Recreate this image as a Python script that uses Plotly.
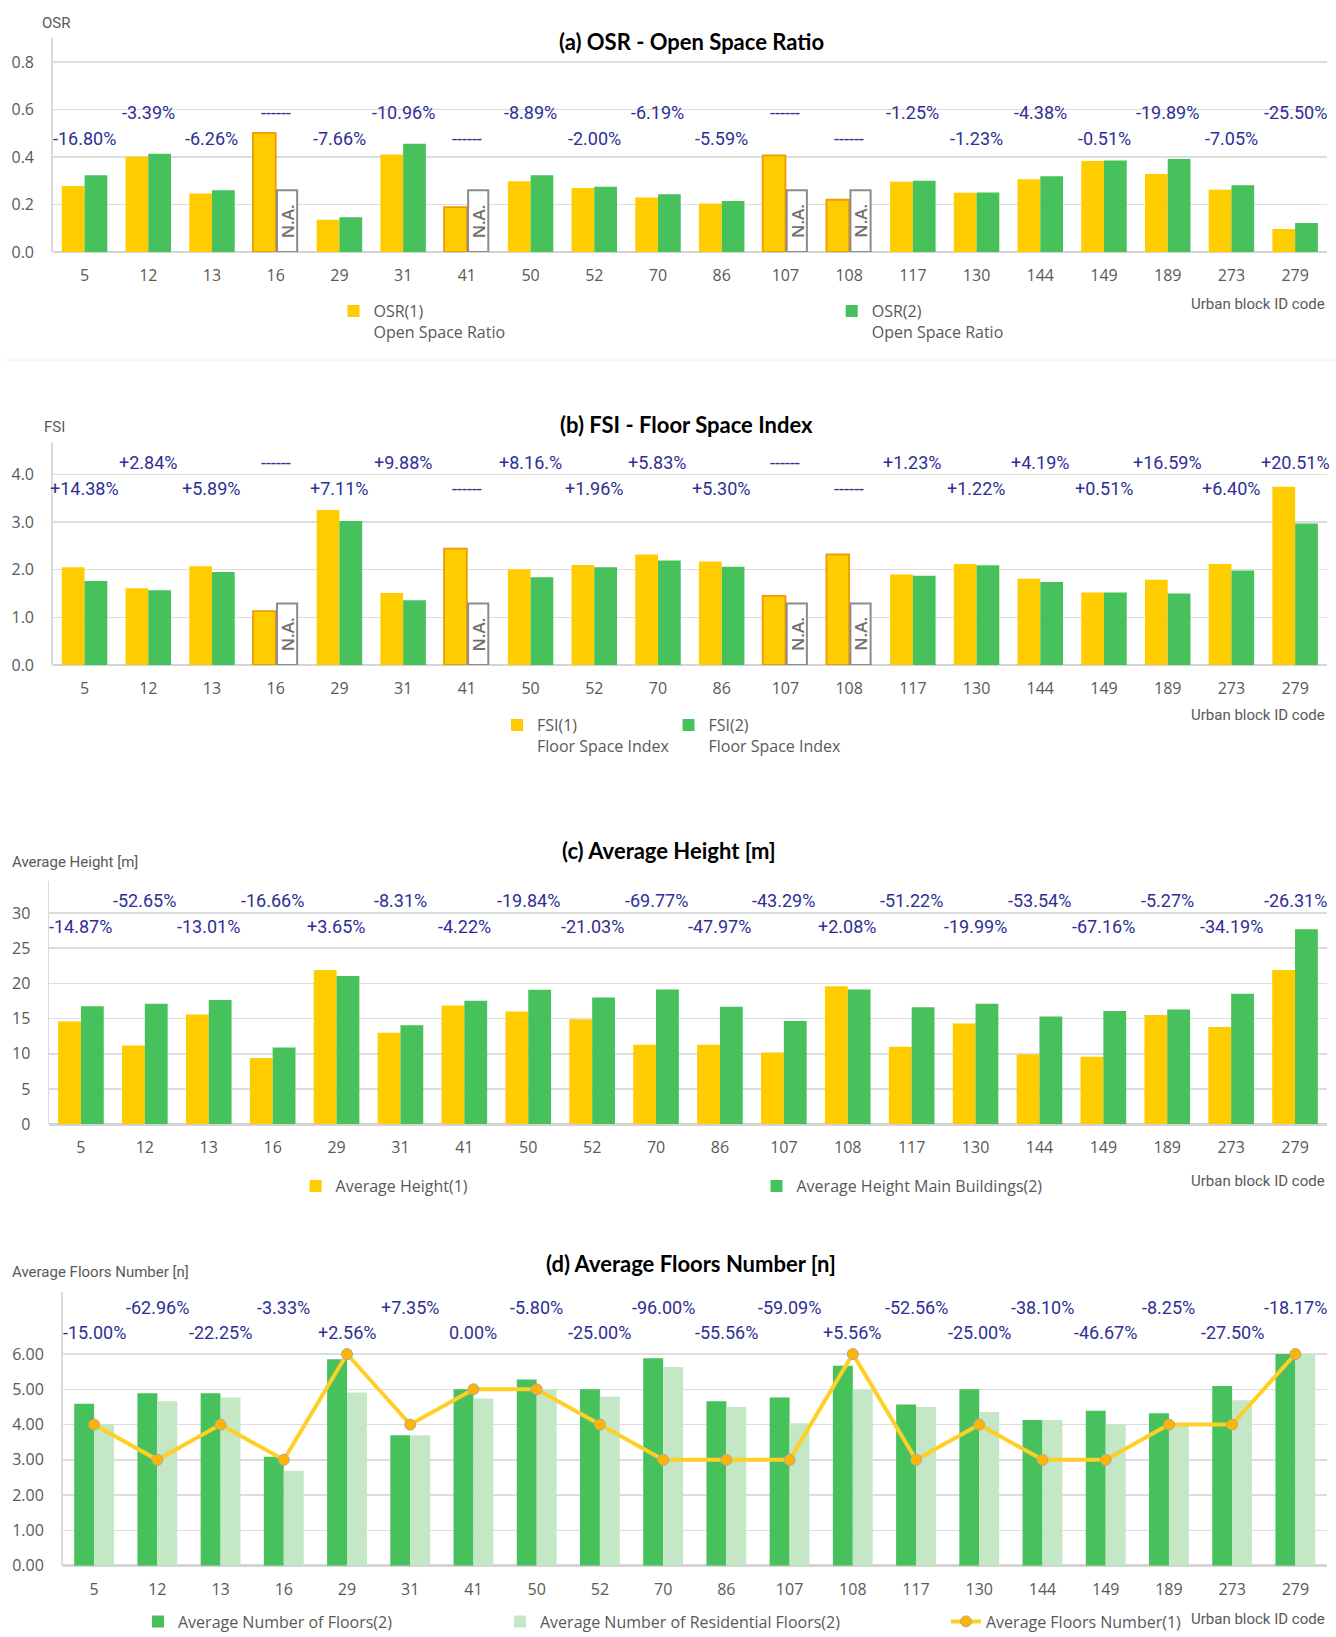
import plotly.graph_objects as go

W, H = 1336, 1637

# ---------------- data ----------------
blocks = ["5", "12", "13", "16", "29", "31", "41", "50", "52", "70",
          "86", "107", "108", "117", "130", "144", "149", "189", "273", "279"]

osr1 = [0.278, 0.401, 0.246, 0.502, 0.136, 0.411, 0.189, 0.298, 0.269, 0.229,
        0.204, 0.407, 0.220, 0.296, 0.250, 0.306, 0.383, 0.328, 0.262, 0.097]
osr2 = [0.323, 0.414, 0.260, None, 0.146, 0.456, None, 0.323, 0.275, 0.243,
        0.215, None, None, 0.300, 0.251, 0.319, 0.385, 0.392, 0.281, 0.122]
osr_pct = ["-16.80%", "-3.39%", "-6.26%", "------", "-7.66%", "-10.96%", "------", "-8.89%", "-2.00%", "-6.19%",
           "-5.59%", "------", "------", "-1.25%", "-1.23%", "-4.38%", "-0.51%", "-19.89%", "-7.05%", "-25.50%"]
osr_na_height = 0.26

fsi1 = [2.05, 1.61, 2.07, 1.13, 3.25, 1.51, 2.44, 2.01, 2.10, 2.32,
        2.17, 1.45, 2.32, 1.90, 2.12, 1.81, 1.52, 1.79, 2.12, 3.74]
fsi2 = [1.76, 1.57, 1.95, None, 3.02, 1.36, None, 1.84, 2.05, 2.19,
        2.06, None, None, 1.87, 2.09, 1.74, 1.52, 1.50, 1.98, 2.97]
fsi_pct = ["+14.38%", "+2.84%", "+5.89%", "------", "+7.11%", "+9.88%", "------", "+8.16.%", "+1.96%", "+5.83%",
           "+5.30%", "------", "------", "+1.23%", "+1.22%", "+4.19%", "+0.51%", "+16.59%", "+6.40%", "+20.51%"]
fsi_na_height = 1.29

height1 = [14.6, 11.2, 15.6, 9.4, 21.9, 13.0, 16.85, 16.0, 14.9, 11.3,
           11.3, 10.2, 19.6, 11.0, 14.3, 9.9, 9.6, 15.5, 13.8, 21.9]
height2 = [16.75, 17.1, 17.65, 10.9, 21.05, 14.05, 17.55, 19.1, 18.0, 19.15,
           16.7, 14.65, 19.15, 16.6, 17.1, 15.3, 16.1, 16.3, 18.55, 27.7]
height_pct = ["-14.87%", "-52.65%", "-13.01%", "-16.66%", "+3.65%", "-8.31%", "-4.22%", "-19.84%", "-21.03%", "-69.77%",
              "-47.97%", "-43.29%", "+2.08%", "-51.22%", "-19.99%", "-53.54%", "-67.16%", "-5.27%", "-34.19%", "-26.31%"]

floors2 = [4.59, 4.89, 4.89, 3.09, 5.85, 3.70, 5.00, 5.28, 5.00, 5.88,
           4.66, 4.77, 5.67, 4.57, 5.00, 4.13, 4.39, 4.32, 5.09, 6.00]
floors_res2 = [4.00, 4.66, 4.77, 2.69, 4.91, 3.70, 4.74, 5.00, 4.79, 5.63,
               4.50, 4.04, 5.00, 4.50, 4.36, 4.13, 4.00, 3.97, 4.69, 6.00]
floors1 = [4, 3, 4, 3, 6, 4, 5, 5, 4, 3,
           3, 3, 6, 3, 4, 3, 3, 4, 4, 6]
floors_pct = ["-15.00%", "-62.96%", "-22.25%", "-3.33%", "+2.56%", "+7.35%", "0.00%", "-5.80%", "-25.00%", "-96.00%",
              "-55.56%", "-59.09%", "+5.56%", "-52.56%", "-25.00%", "-38.10%", "-46.67%", "-8.25%", "-27.50%", "-18.17%"]

# ---------------- styles ----------------
YELLOW = "#FFCC00"
ORANGE = "#EE9A00"
GREEN = "#47C15B"
LIGHT_GREEN = "#C4E7C6"
LINE_YEL = "#FFCF26"
MARK_YEL = "#FFB400"
PCT_COL = "#2E2F96"
GREY_TXT = "#595959"
GRID = "#DDDDDD"
TICK_FONT = dict(family="Open Sans", size=16, color=GREY_TXT)
LEG_FONT = dict(family="Open Sans", size=16, color=GREY_TXT)
COND = "Roboto, Liberation Sans, sans-serif"
TITLE_FONT = dict(family="Lato, Open Sans, sans-serif", size=22, color="#000000", weight=700)
NA_TEXT = dict(family="Open Sans", size=17, color="#707070", weight=600)


def py(px):
    return 1 - px / H


def pxx(px):
    return px / W


fig = go.Figure()

# panels: (x-left px, x-right px, zero px, px per unit, top px)
panels = {
    1: dict(xl=52.7, xr=1327, zero=252.0, ppu=237.5, top=38.0),
    2: dict(xl=52.7, xr=1327, zero=665.0, ppu=47.67, top=441.5),
    3: dict(xl=49.0, xr=1327, zero=1124.3, ppu=7.044, top=881.0),
    4: dict(xl=62.5, xr=1327, zero=1565.7, ppu=35.28, top=1291.7),
}

na_line = [ORANGE if v is None else YELLOW for v in osr2]
na_line_w = [1.8 if v is None else 0 for v in osr2]


def na_values(series, h):
    return [h if v is None else None for v in series]


BW = 0.357
NA_OFF, NA_W = 0.02, BW - 0.04

# (a) OSR
fig.add_trace(go.Bar(x=blocks, y=osr1, name="OSR(1)<br>Open Space Ratio", marker=dict(color=YELLOW, line=dict(color=na_line, width=na_line_w)),
                     offset=-BW, width=BW, xaxis="x", yaxis="y", legend="legend"))
fig.add_trace(go.Bar(x=blocks, y=osr2, name="OSR(2)<br>Open Space Ratio", marker=dict(color=GREEN, line=dict(width=0)),
                     offset=0, width=BW, xaxis="x", yaxis="y", legend="legend2"))
fig.add_trace(go.Bar(x=blocks, y=na_values(osr2, osr_na_height), showlegend=False,
                     marker=dict(color="white", line=dict(color="#8C8C8C", width=2)), offset=NA_OFF, width=NA_W,
                     xaxis="x", yaxis="y", hoverinfo="skip"))

# (b) FSI
fig.add_trace(go.Bar(x=blocks, y=fsi1, name="FSI(1)<br>Floor Space Index", marker=dict(color=YELLOW, line=dict(color=na_line, width=na_line_w)),
                     offset=-BW, width=BW, xaxis="x2", yaxis="y2", legend="legend3"))
fig.add_trace(go.Bar(x=blocks, y=fsi2, name="FSI(2)<br>Floor Space Index", marker=dict(color=GREEN, line=dict(width=0)),
                     offset=0, width=BW, xaxis="x2", yaxis="y2", legend="legend4"))
fig.add_trace(go.Bar(x=blocks, y=na_values(fsi2, fsi_na_height), showlegend=False,
                     marker=dict(color="white", line=dict(color="#8C8C8C", width=2)), offset=NA_OFF, width=NA_W,
                     xaxis="x2", yaxis="y2", hoverinfo="skip"))

# (c) Height
fig.add_trace(go.Bar(x=blocks, y=height1, name="Average Height(1)", marker=dict(color=YELLOW, line=dict(width=0)),
                     offset=-BW, width=BW, xaxis="x3", yaxis="y3", legend="legend5"))
fig.add_trace(go.Bar(x=blocks, y=height2, name="Average Height Main Buildings(2)", marker=dict(color=GREEN, line=dict(width=0)),
                     offset=0, width=BW, xaxis="x3", yaxis="y3", legend="legend6"))

# (d) Floors
FW = 0.315
fig.add_trace(go.Bar(x=blocks, y=floors2, name="Average Number of Floors(2)", marker=dict(color=GREEN, line=dict(width=0)),
                     offset=-FW, width=FW, xaxis="x4", yaxis="y4", legend="legend7"))
fig.add_trace(go.Bar(x=blocks, y=floors_res2, name="Average Number of Residential Floors(2)", marker=dict(color=LIGHT_GREEN, line=dict(width=0)),
                     offset=0, width=FW, xaxis="x4", yaxis="y4", legend="legend8"))
fig.add_trace(go.Scatter(x=blocks, y=floors1, name="Average Floors Number(1)", mode="lines+markers",
                         line=dict(color=LINE_YEL, width=4),
                         marker=dict(color=MARK_YEL, size=11, line=dict(color="#A8A8A8", width=1)),
                         xaxis="x4", yaxis="y4", legend="legend9"))

layout = dict(width=W, height=H, margin=dict(l=0, r=0, t=0, b=0, autoexpand=False), autosize=False,
              paper_bgcolor="white", plot_bgcolor="white", barmode="overlay", showlegend=True,
              font=dict(family="Open Sans", color=GREY_TXT))

ytick = {1: dict(dtick=0.2, tickformat=".1f"), 2: dict(dtick=1, tickformat=".1f"),
         3: dict(dtick=5, tickformat="d"), 4: dict(tickmode="array", tickvals=[0, 1, 2, 3, 4, 5, 6], tickformat=".2f")}

for i, p in panels.items():
    s = "" if i == 1 else str(i)
    top_val = (p["zero"] - p["top"]) / p["ppu"]
    layout["xaxis" + s] = dict(domain=[pxx(p["xl"]), pxx(p["xr"])], anchor="y" + s, type="category",
                               range=[-0.5, 19.5], showgrid=False, showline=False, ticks="", automargin=False,
                               tickfont=TICK_FONT, ticklabelstandoff=12, fixedrange=True)
    layout["yaxis" + s] = dict(domain=[py(p["zero"]), py(p["top"])], anchor="x" + s, range=[0, top_val],
                               showgrid=True, gridcolor=GRID, gridwidth=1.5, zeroline=True, zerolinecolor="#D4D4D4",
                               zerolinewidth=2.5, showline=True, linecolor="#DADADA", linewidth=1.5, automargin=False,
                               ticks="", tickfont=TICK_FONT, ticklabelstandoff=14, fixedrange=True, **ytick[i])

# legends: (text-left px, first-line center px)
legend_pos = {
    "legend": (370.5, 311.7), "legend2": (868.7, 311.7),
    "legend3": (534.0, 725.7), "legend4": (705.5, 725.7),
    "legend5": (332.6, 1186.7), "legend6": (793.5, 1186.7),
    "legend7": (175.0, 1622.0), "legend8": (537.0, 1622.0), "legend9": (983.0, 1622.0),
}
for k, (tx, ty) in legend_pos.items():
    layout[k] = dict(x=pxx(tx - 37), xanchor="left", y=py(ty - 17.5), yanchor="top", bgcolor="rgba(0,0,0,0)",
                     borderwidth=0, font=LEG_FONT, valign="top", itemclick=False, itemdoubleclick=False,
                     tracegroupgap=0)

fig.update_layout(**layout)

annotations = []
# percent labels, alternating lower/upper rows
pct_rows = {1: (osr_pct, 138.7, 112.7), 2: (fsi_pct, 488.7, 462.7),
            3: (height_pct, 926.7, 900.7), 4: (floors_pct, 1332.7, 1307.7)}
for i, (labels, low, up) in pct_rows.items():
    s = "" if i == 1 else str(i)
    for j, t in enumerate(labels):
        annotations.append(dict(x=j, xref="x" + s, y=py(low if j % 2 == 0 else up), yref="paper",
                                text=t, showarrow=False, font=dict(family=COND, size=18, color=PCT_COL),
                                xanchor="center", yanchor="middle"))

# "N.A." labels inside the placeholder boxes
for s, series, h in [("", osr2, osr_na_height), ("2", fsi2, fsi_na_height)]:
    for j, v in enumerate(series):
        if v is None:
            annotations.append(dict(x=j + NA_OFF + NA_W / 2, xref="x" + s, y=h / 2, yref="y" + s, text="N.A.",
                                    textangle=-90, showarrow=False, font=NA_TEXT,
                                    xanchor="center", yanchor="middle"))

titles = [("(a) OSR - Open Space Ratio", 691, 41.7), ("(b) FSI - Floor Space Index", 686, 425.0),
          ("(c) Average Height [m]", 669, 850.7), ("(d) Average Floors Number [n]", 691, 1263.3)]
for t, x, y in titles:
    annotations.append(dict(x=pxx(x), y=py(y), xref="paper", yref="paper", text=t, showarrow=False,
                            font=TITLE_FONT, xanchor="center", yanchor="middle"))

ytitles = [("OSR", 39.7, 23.3), ("FSI", 42.0, 426.7), ("Average Height [m]", 10.4, 862.3),
           ("Average Floors Number [n]", 10.4, 1272.3)]
for t, x, y in ytitles:
    annotations.append(dict(x=pxx(x), y=py(y), xref="paper", yref="paper", text=t, showarrow=False,
                            font=dict(family=COND, size=15, color=GREY_TXT), xanchor="left", yanchor="middle"))

for y in [304.0, 715.0, 1180.7, 1619.3]:
    annotations.append(dict(x=pxx(1327), y=py(y), xref="paper", yref="paper", text="Urban block ID code",
                            showarrow=False, font=dict(family=COND, size=15, color=GREY_TXT),
                            xanchor="right", yanchor="middle"))

fig.update_layout(annotations=annotations,
                  shapes=[dict(type="line", xref="paper", yref="paper", x0=pxx(3), x1=1, y0=py(360), y1=py(360),
                               line=dict(color="#F0F0F0", width=1))])

fig.write_html("out.html", config={"displayModeBar": False, "staticPlot": True},
               post_script="document.body.style.margin='0';")
